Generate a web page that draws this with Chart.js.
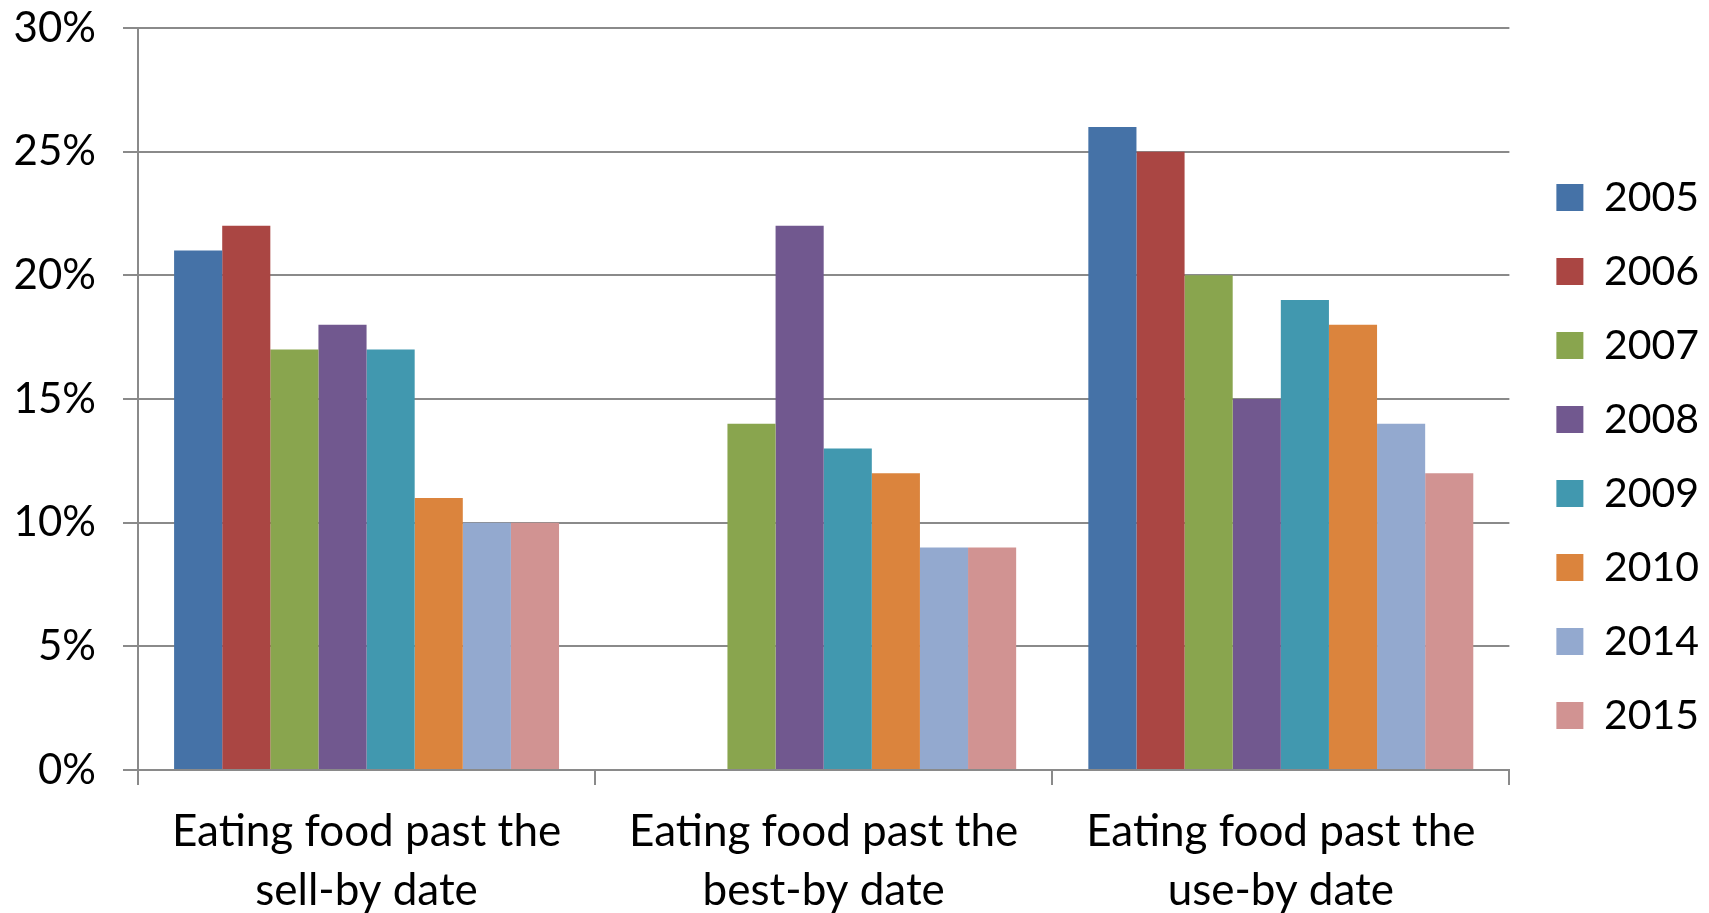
<!DOCTYPE html>
<html>
<head>
<meta charset="utf-8">
<script src="https://cdn.jsdelivr.net/npm/chart.js@4.4.1/dist/chart.umd.min.js"></script>
<style>
  html, body { margin: 0; padding: 0; background: #ffffff; }
  #wrap { width: 1709px; height: 913px; position: relative; }
</style>
</head>
<body>
<div id="wrap"><canvas id="c" width="1709" height="913"></canvas></div>
<script>
const categories = [
  ["Eating food past the", "sell-by date"],
  ["Eating food past the", "best-by date"],
  ["Eating food past the", "use-by date"]
];
const seriesNames = ["2005", "2006", "2007", "2008", "2009", "2010", "2014", "2015"];
const v2005 = [21, null, 26];
const v2006 = [22, null, 25];
const v2007 = [17, 14, 20];
const v2008 = [18, 22, 15];
const v2009 = [17, 13, 19];
const v2010 = [11, 12, 18];
const v2014 = [10, 9, 14];
const v2015 = [10, 9, 12];
const yTicks = [0, 5, 10, 15, 20, 25, 30];

const seriesValues = [v2005, v2006, v2007, v2008, v2009, v2010, v2014, v2015];
const colors = ["#4572A7", "#AA4643", "#89A54E", "#71588F", "#4198AF", "#DB843D", "#93A9CF", "#D19392"];

const FONT = "Lato, 'Liberation Sans', sans-serif";
const GRID = "#8a8a8a";

const datasets = seriesNames.map((name, i) => ({
  label: name,
  data: seriesValues[i],
  backgroundColor: colors[i],
  borderWidth: 0,
  categoryPercentage: 8 / 9.5,
  barPercentage: 1.0
}));

new Chart(document.getElementById('c'), {
  type: 'bar',
  data: { labels: categories, datasets },
  options: {
    responsive: false,
    animation: false,
    layout: { padding: { top: 0, right: 0, bottom: 0, left: 0 } },
    plugins: {
      tooltip: { enabled: false },
      legend: {
        position: 'right',
        align: 'center',
        labels: {
          font: { family: FONT, size: 41 },
          color: '#000000',
          boxWidth: 27,
          boxHeight: 27,
          padding: 33
        }
      }
    },
    scales: {
      x: {
        grid: {
          offset: true,
          drawOnChartArea: false,
          drawTicks: true,
          tickLength: 15,
          color: GRID,
          lineWidth: 2
        },
        border: { display: true, color: GRID, width: 2 },
        ticks: {
          font: { family: FONT, size: 44, lineHeight: 1.34 },
          color: '#000000',
          padding: 17,
          maxRotation: 0,
          autoSkip: false
        },
        afterFit: (s) => { s.height = 143; s.paddingLeft = 0; s.paddingRight = 0; }
      },
      y: {
        min: 0,
        max: 30,
        afterBuildTicks: (s) => { s.ticks = yTicks.map(v => ({ value: v })); },
        grid: {
          color: GRID,
          lineWidth: 2,
          drawTicks: true,
          tickLength: 15
        },
        border: { display: true, color: GRID, width: 2 },
        ticks: {
          font: { family: FONT, size: 42 },
          color: '#000000',
          padding: 27,
          callback: (v) => v + '%'
        },
        afterFit: (s) => { s.width = 138; s.paddingTop = 28; s.paddingBottom = 0; }
      },
      yr: {
        position: 'right',
        display: true,
        grid: { display: false, drawTicks: false },
        border: { display: false },
        ticks: { display: false },
        afterFit: (s) => { s.width = 14; s.paddingTop = 0; s.paddingBottom = 0; }
      }
    }
  }
});
</script>
</body>
</html>
